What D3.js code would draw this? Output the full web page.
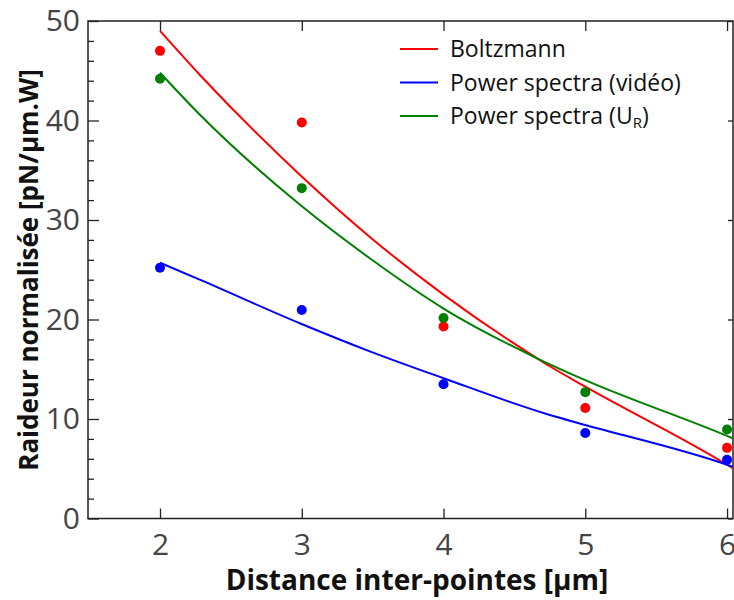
<!DOCTYPE html>
<html>
<head>
<meta charset="utf-8">
<script src="https://cdn.jsdelivr.net/npm/d3@7"></script>
<style>
  body { margin: 0; background: #fff; }
  text { font-family: 'Open Sans', sans-serif; }
</style>
</head>
<body>
<div id="chart"></div>
<script>
// measured points
const distances = [2, 3, 4, 5, 6]
const boltzmann = [47.0, 39.8, 19.3, 11.1, 7.1]
const powerVideo = [25.2, 20.95, 13.5, 8.6, 5.9]
const powerUR = [44.2, 33.2, 20.15, 12.7, 8.95]

// fitted curves as [x, y]
const boltzmannFit = [[2, 49.0], [2.28, 44.6], [2.99, 34.5], [3.48, 28.3], [4, 22.5], [4.66, 16.1], [4.75, 15.3], [5, 13.25], [6, 5.4], [6.04, 5.05]]
const powerVideoFit = [[2, 25.7], [2.28, 24.0], [2.99, 19.6], [3.48, 16.8], [4, 14.1], [4.75, 10.4], [5, 9.4], [6, 5.4], [6.04, 5.2]]
const powerURFit = [[2, 44.8], [2.28, 40.6], [2.99, 31.5], [3.48, 26.15], [4, 21.1], [4.66, 16.1], [5, 13.9], [6, 8.3], [6.04, 8.06]]

const xTicks = [2, 3, 4, 5, 6]
const yTicks = [0, 10, 20, 30, 40, 50]
const yMinorTicks = [2, 4, 6, 8, 12, 14, 16, 18, 22, 24, 26, 28, 32, 34, 36, 38, 42, 44, 46, 48]

const legendLabels = ['Boltzmann', 'Power spectra (vidéo)', 'Power spectra (U', 'R', ')']

const margin = { top: 21, left: 88, right: 1, bottom: 81.5 }
const width = 734 - margin.left - margin.right
const height = 600 - margin.top - margin.bottom

const svg = d3
  .select('#chart')
  .append('svg')
  .attr('width', 734)
  .attr('height', 600)
  .append('g')
  .attr('transform', 'translate(' + margin.left + ',' + margin.top + ')')

const xPositionScale = d3.scaleLinear().domain([1.492, 6.042]).range([0, width])
const yPositionScale = d3.scaleLinear().domain([0, 50]).range([height, 0])

const series = [
  { name: 'boltzmann', color: '#ff0000', values: boltzmann, fit: boltzmannFit },
  { name: 'video', color: '#0000ff', values: powerVideo, fit: powerVideoFit },
  { name: 'ur', color: '#008000', values: powerUR, fit: powerURFit }
]

// frame
svg
  .append('rect')
  .attr('width', width)
  .attr('height', height)
  .attr('fill', 'none')
  .attr('stroke', '#222')
  .attr('stroke-width', 1.5)

// axes with inward ticks
const leftAxis = d3.axisLeft(yPositionScale).tickValues(yTicks).tickSize(-11).tickFormat(d3.format('d'))
const gLeft = svg.append('g').call(leftAxis)
gLeft.select('.domain').remove()
gLeft.selectAll('text').attr('font-size', 30).attr('fill', '#444').attr('x', -8)

svg
  .append('g')
  .call(d3.axisLeft(yPositionScale).tickValues(yMinorTicks).tickSize(-6).tickFormat(''))
  .select('.domain')
  .remove()

const rightAxis = d3.axisRight(yPositionScale).tickValues(yTicks).tickSize(-5).tickFormat('')
svg
  .append('g')
  .attr('transform', `translate(${width},0)`)
  .call(rightAxis)
  .select('.domain')
  .remove()

const bottomAxis = d3.axisBottom(xPositionScale).tickValues(xTicks).tickSize(-10).tickFormat(d3.format('d'))
const gBottom = svg.append('g').attr('transform', `translate(0,${height})`).call(bottomAxis)
gBottom.select('.domain').remove()
gBottom.selectAll('text').attr('font-size', 30).attr('fill', '#444').attr('dy', '0.71em').attr('y', 15)

svg
  .append('g')
  .call(d3.axisTop(xPositionScale).tickValues(xTicks).tickSize(-10).tickFormat(''))
  .select('.domain')
  .remove()

svg.selectAll('.tick line').attr('stroke', '#222').attr('stroke-width', 1.3)

// fitted curves
const line = d3
  .line()
  .x(d => xPositionScale(d[0]))
  .y(d => yPositionScale(d[1]))
  .curve(d3.curveMonotoneX)

svg
  .selectAll('.fit')
  .data(series)
  .enter()
  .append('path')
  .attr('class', 'fit')
  .attr('d', d => line(d.fit))
  .attr('fill', 'none')
  .attr('stroke', d => d.color)
  .attr('stroke-width', 2)

// points
series.forEach(s => {
  svg
    .selectAll('.dot-' + s.name)
    .data(s.values)
    .enter()
    .append('circle')
    .attr('class', 'dot-' + s.name)
    .attr('cx', (d, i) => xPositionScale(distances[i]))
    .attr('cy', d => yPositionScale(d))
    .attr('r', 5)
    .attr('fill', s.color)
})

// legend
const legend = svg.append('g').attr('transform', `translate(${400 - margin.left},${49 - margin.top})`)
series.forEach((s, i) => {
  legend
    .append('line')
    .attr('x1', 0)
    .attr('x2', 38)
    .attr('y1', i * 33.5)
    .attr('y2', i * 33.5)
    .attr('stroke', s.color)
    .attr('stroke-width', 2)
})
legend.append('text').attr('x', 50).attr('y', 8).attr('font-size', 23).attr('fill', '#111').text(legendLabels[0])
legend.append('text').attr('x', 50).attr('y', 41.5).attr('font-size', 23).attr('fill', '#111').text(legendLabels[1])
const urText = legend.append('text').attr('x', 50).attr('y', 75).attr('font-size', 23).attr('fill', '#111')
urText.append('tspan').text(legendLabels[2])
urText.append('tspan').attr('font-size', 15).attr('dy', 4).text(legendLabels[3])
urText.append('tspan').attr('dy', -4).text(legendLabels[4])

// axis titles
svg
  .append('text')
  .attr('x', 417 - margin.left)
  .attr('y', 590 - margin.top)
  .attr('text-anchor', 'middle')
  .attr('font-size', 28)
  .attr('font-weight', 'bold')
  .attr('fill', '#111')
  .text('Distance inter-pointes [µm]')

svg
  .append('text')
  .attr('transform', `translate(${38 - margin.left},${270 - margin.top}) rotate(-90)`)
  .attr('text-anchor', 'middle')
  .attr('font-size', 26)
  .attr('font-weight', 'bold')
  .attr('fill', '#111')
  .text('Raideur normalisée [pN/µm.W]')
</script>
</body>
</html>
